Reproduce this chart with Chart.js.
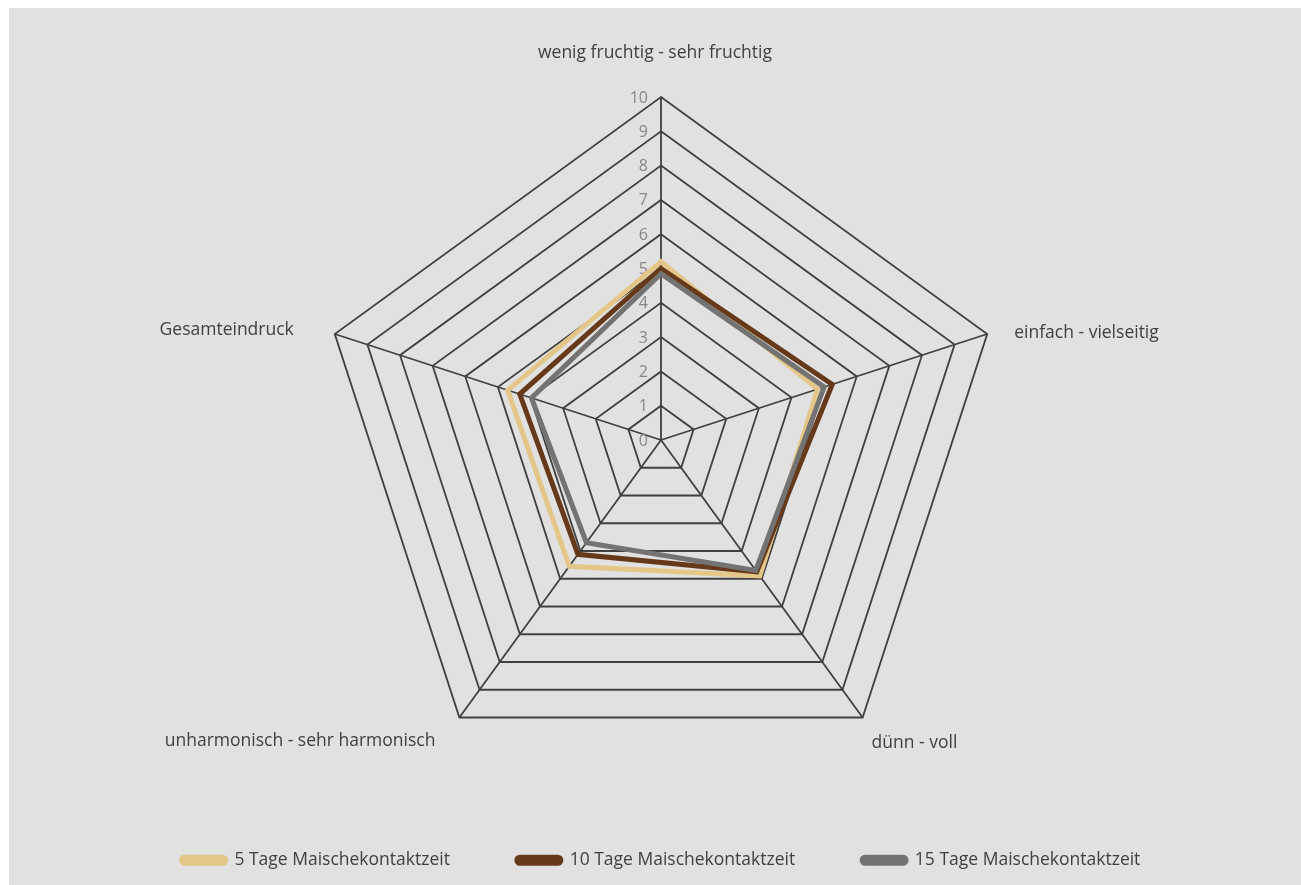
<!DOCTYPE html>
<html>
<head>
<meta charset="utf-8">
<script src="https://cdn.jsdelivr.net/npm/chart.js@4.4.1/dist/chart.umd.min.js"></script>
<style>
  html, body { margin: 0; padding: 0; background: #ffffff; }
  #wrap { position: absolute; left: 9px; top: 8px; width: 1292px; height: 877px; background: #e1e1e1; }
</style>
</head>
<body>
<div id="wrap"><canvas id="radar"></canvas></div>
<script>
const categories = ['wenig fruchtig - sehr fruchtig', 'einfach - vielseitig', 'dünn - voll', 'unharmonisch - sehr harmonisch', 'Gesamteindruck'];
const tage5 = [5.2, 4.8, 4.9, 4.55, 4.7];
const tage10 = [5.0, 5.25, 4.75, 4.12, 4.33];
const tage15 = [4.85, 5.0, 4.7, 3.7, 3.97];
const tickValues = [0, 1, 2, 3, 4, 5, 6, 7, 8, 9, 10];

// where each axis title sits relative to the outer corner of its axis
const labelPlacement = [
    { dx: -6, dy: -44, align: 'center' },
    { dx: 27, dy: -1, align: 'left' },
    { dx: 9, dy: 26, align: 'left' },
    { dx: -24, dy: 24, align: 'right' },
    { dx: -41, dy: -4, align: 'right' }
];

// tick numbers sit left of the vertical axis, 0 included
const tickLabels = {
    id: 'tickLabels',
    beforeDatasetsDraw(chart) {
        const r = chart.scales.r;
        const c = chart.ctx;
        c.save();
        c.font = '16px "Open Sans"';
        c.fillStyle = '#868686';
        c.textAlign = 'right';
        c.textBaseline = 'middle';
        tickValues.forEach(v => {
            const p = r.getPointPositionForValue(0, v);
            c.fillText(String(v), p.x - 13, p.y + 1);
        });
        c.restore();
    }
};

const axisTitles = {
    id: 'axisTitles',
    afterDraw(chart) {
        const r = chart.scales.r;
        const c = chart.ctx;
        c.save();
        c.font = '17.5px "Open Sans"';
        c.fillStyle = '#404040';
        c.textBaseline = 'middle';
        categories.forEach((name, i) => {
            const p = r.getPointPosition(i, r.drawingArea);
            const s = labelPlacement[i];
            c.textAlign = s.align;
            c.fillText(name, p.x + s.dx, p.y + s.dy);
        });
        c.restore();
    }
};

const ctx = document.getElementById('radar').getContext('2d');
const chart = new Chart(ctx, {
    type: 'radar',
    data: {
        labels: categories,
        datasets: [
            {
                label: '5 Tage Maischekontaktzeit',
                data: tage5,
                borderColor: '#e4c788',
                backgroundColor: '#e4c788',
                borderWidth: 5,
                fill: false,
                pointRadius: 0,
                order: 3
            },
            {
                label: '10 Tage Maischekontaktzeit',
                data: tage10,
                borderColor: '#66391a',
                backgroundColor: '#66391a',
                borderWidth: 5,
                fill: false,
                pointRadius: 0,
                order: 2
            },
            {
                label: '15 Tage Maischekontaktzeit',
                data: tage15,
                borderColor: '#737373',
                backgroundColor: '#737373',
                borderWidth: 5,
                fill: false,
                pointRadius: 0,
                order: 1
            }
        ]
    },
    options: {
        responsive: true,
        maintainAspectRatio: false,
        animation: false,
        layout: { padding: { top: 89, bottom: 6, left: 12, right: 0 } },
        elements: { line: { tension: 0, borderJoinStyle: 'miter' } },
        scales: {
            r: {
                min: 0,
                max: 10,
                ticks: { stepSize: 1, display: false },
                grid: { color: '#404040', lineWidth: 1.8 },
                angleLines: { color: '#404040', lineWidth: 1.8 },
                pointLabels: { display: false }
            }
        },
        plugins: {
            legend: {
                position: 'bottom',
                labels: {
                    boxWidth: 44,
                    boxHeight: 6,
                    useBorderRadius: true,
                    borderRadius: 3,
                    padding: 67,
                    color: '#404040',
                    font: { family: 'Open Sans', size: 17.5 },
                    sort: (a, b) => a.datasetIndex - b.datasetIndex
                }
            },
            tooltip: { enabled: false }
        }
    },
    plugins: [tickLabels, axisTitles]
});
</script>
</body>
</html>
